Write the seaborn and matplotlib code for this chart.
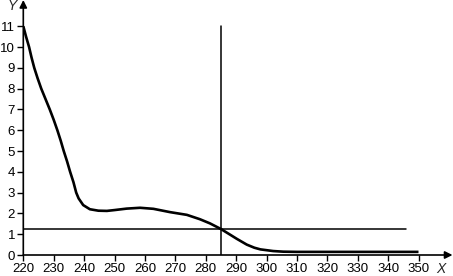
import matplotlib
matplotlib.use("Agg")
import matplotlib.pyplot as plt
import seaborn as sns
import pandas as pd

# Curve data
curve_x = [220, 220.9, 221.9, 222.7, 223.6, 224.7, 225.9, 227.3, 228.7, 230.0,
           231.2, 232.3, 233.3, 234.4, 235.4, 236.5, 237.4, 238.2, 239.7, 241.9,
           244.7, 247.5, 250, 254, 258.4, 262.8, 268.3, 273.8, 278.1, 281.4,
           285, 288, 290.2, 293.5, 296, 298, 302.2, 305.5, 310, 350]
curve_y = [11.0, 10.5, 10.0, 9.5, 9.0, 8.5, 8.0, 7.5, 7.0, 6.5,
           6.0, 5.5, 5.0, 4.5, 4.0, 3.5, 3.0, 2.72, 2.40, 2.20,
           2.13, 2.12, 2.16, 2.23, 2.27, 2.22, 2.06, 1.93, 1.72, 1.52,
           1.25, 0.98, 0.78, 0.50, 0.35, 0.27, 0.19, 0.16, 0.15, 0.15]

# Reference lines
hline_x = [220, 346]
hline_y = [1.25, 1.25]
vline_x = [285, 285]
vline_y = [0, 11]

x_ticks = list(range(220, 351, 10))
y_ticks = list(range(0, 12))

sns.set_theme(style="white")
plt.rcParams['font.family'] = ['Liberation Sans', 'DejaVu Sans']

fig = plt.figure(figsize=(4.53, 2.76), dpi=100)
ax = fig.add_axes([23.3 / 453, 21 / 276, (452.5 - 23.3) / 453, 255 / 276])

df = pd.DataFrame({"x": curve_x, "y": curve_y})
sns.lineplot(data=df, x="x", y="y", sort=False, estimator=None, color="black",
             lw=1.9, ax=ax, solid_joinstyle="round", solid_capstyle="butt")
sns.lineplot(x=hline_x, y=hline_y, sort=False, estimator=None, color="black",
             lw=1.1, ax=ax)
sns.lineplot(x=vline_x, y=vline_y, sort=False, estimator=None, color="black",
             lw=1.1, ax=ax)

ax.set_xlim(220, 220 + (452.5 - 23.3) / 3.04)
ax.set_ylim(0, 255 / 20.8)
ax.set_xticks(x_ticks)
ax.set_yticks(y_ticks)
ax.tick_params(axis="both", direction="out", length=4.5, width=1.0, color="black",
               labelsize=9.5, pad=1.5, labelcolor="black")
ax.tick_params(axis="x", bottom=True)
ax.tick_params(axis="y", left=True)
ax.set_xlabel("")
ax.set_ylabel("")
for s in ax.spines.values():
    s.set_visible(False)
ax.set_facecolor("white")

# axis arrows
ax.annotate("", xy=(1.0, 0), xytext=(0, 0), xycoords="axes fraction",
            arrowprops=dict(arrowstyle="-|>", color="black", lw=1.2,
                            mutation_scale=11, shrinkA=0, shrinkB=0))
ax.annotate("", xy=(0, 1.0), xytext=(0, 0), xycoords="axes fraction",
            arrowprops=dict(arrowstyle="-|>", color="black", lw=1.2,
                            mutation_scale=11, shrinkA=0, shrinkB=0))

fig.text(441 / 453, 1 - 269 / 276, "X", style="italic", fontsize=10,
         ha="center", va="center")
fig.text(12 / 453, 1 - 6 / 276, "Y", style="italic", fontsize=10,
         ha="center", va="center")

fig.savefig("out.png", dpi=100, facecolor="white")
